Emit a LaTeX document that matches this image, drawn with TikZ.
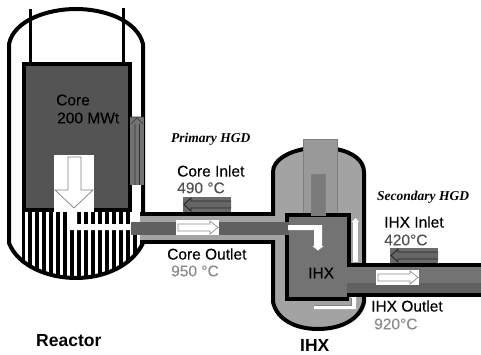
\documentclass[tikz,border=0pt]{standalone}
\usepackage{fontspec}
\setmainfont{Liberation Sans}
\newfontfamily\hgdfont{Liberation Serif}
\newfontfamily\plantfont[FakeBold=0.25]{Liberation Sans}
\usepackage{tikz}
\usetikzlibrary{positioning}
\newcommand{\definitions}{%
  % grey levels of the plant
  \colorlet{colCore}{black!67}
  \colorlet{colVessel}{black!36}
  \colorlet{colStack}{black!40}
  \colorlet{colBox}{black!55}
  \colorlet{colDuct}{black!62}
  \colorlet{colTempDark}{black!68}
  \colorlet{colTempLight}{black!45}

  % reactor vessel outline
  \def\pathReactor{(9,44) .. controls (14,20) and (48,9) .. (76,9) .. controls (104,9) and (137,20) .. (143,44)
    -- (143,243) .. controls (132,266) and (104,278) .. (76,278) .. controls (48,278) and (18,266) .. (9,243) -- cycle}
  % IHX vessel outline
  \def\pathIHX{(273,172) .. controls (273,160) and (288,152) .. (304,149) -- (336,149) .. controls (352,152) and (364,160) .. (364,172)
    -- (364,302) .. controls (360,320) and (340,329) .. (318,329) .. controls (296,329) and (277,320) .. (273,302) -- cycle}
}
% thick black walls, labels, and the flow arrows in their boxes
\tikzset{
  wall/.style={draw=black,line width=4pt},
  rod/.style={line width=3.5pt},
  label/.style={anchor=west,inner sep=0pt,font=\fontsize{15.5}{16}\selectfont\plantfont},
  bigLabel/.style={anchor=west,inner sep=0pt,font=\fontsize{17.5}{18}\selectfont\bfseries},
  hgdLabel/.style={anchor=west,inner sep=0pt,font=\fontsize{13.5}{14}\selectfont\hgdfont\bfseries\itshape},
  rightFlow/.style={fill=white,draw=black!45,line width=.7pt},
  leftFlow/.style={fill=black!60,draw=black!85,line width=.9pt}
}
% box with an arrow pointing right: x, y of the top left corner
\newcommand{\flowRight}[2]{%
  \fill[white] (#1,#2) rectangle ++(43,15);
  \draw[rightFlow] (#1+2,#2+4) -- ++(32,0) -- ++(0,-3) -- ++(8,6.5) -- ++(-8,6.5) -- ++(0,-3) -- ++(-32,0) -- cycle;
}
% box with an arrow pointing left: x, y of the top left corner
\newcommand{\flowLeft}[2]{%
  \fill[black!58] (#1,#2) rectangle ++(48,15);
  \draw[leftFlow] (#1+48,#2+4) -- ++(-40,0) -- ++(0,-3) -- ++(-7,6.5) -- ++(7,6.5) -- ++(0,-3) -- ++(40,0);
}

\begin{document}
\begin{tikzpicture}[x=1pt,y=-1pt]

  \useasboundingbox (0,0) rectangle (481,355);

  % define colors and outlines
  \definitions

  % reactor vessel with striped lower plenum
  \fill[white] \pathReactor;
  \begin{scope}
    \clip \pathReactor;
    \fill[black] (22,208) rectangle (143,280);
    \foreach \x in {25,32,...,137} {
      \fill[white] (\x,212) rectangle ++(3.4,70);
    }
    \fill[white] (132,210) rectangle (141,222);
  \end{scope}
  \draw[wall] \pathReactor;

  % control rods
  \draw[rod] (30.5,9) -- (30.5,64);
  \draw[rod,line width=3pt] (123,8) -- (123,64);

  % core block
  \filldraw[fill=colCore,draw=black,line width=4pt] (24,64) rectangle (130,210);

  % riser beside the core
  \fill[white] (132,185) rectangle (141,212);
  \fill[black!55] (130,117) rectangle (144,185);
  \draw[black!80,line width=.6pt] (130,117) -- (144,117) (131,124) -- (137,118) -- (143,124)
    (135,124) -- (135,185) (139.5,124) -- (139.5,185);

  % big arrow into the lower plenum
  \fill[white] (54,155) rectangle (94,212);
  \draw[black!50,line width=.7pt] (68,157) -- (68,190) -- (55,190) -- (74,208) -- (93,190) -- (81,190) -- (81,157) -- cycle;

  % way out of the lower plenum
  \fill[white] (70,211) rectangle (77,230) (70,224) rectangle (132,230);

  % primary duct
  \fill[colVessel] (140,216) rectangle (288,240);
  \fill[colDuct] (131,222) rectangle (288,235);
  \draw[wall] (140,214) -- (275,214) (140,241.5) -- (275,241.5);
  \flowLeft{183}{197}
  \flowRight{176}{220}

  % IHX vessel
  \fill[colVessel] \pathIHX;
  \draw[wall] \pathIHX;
  \fill[colVessel] (270.5,216) rectangle (288,239.5);
  \filldraw[fill=colStack,draw=black!50,line width=.6pt] (303,215) -- (303,139) -- (337,139) -- (337,215);

  % IHX box
  \fill[colBox] (287,215) rectangle (349,298);
  \draw[wall] (348.5,265) -- (348.5,215) -- (287,215) -- (287,298.5) -- (349,298.5);
  \fill[colDuct] (270.5,222) rectangle (289,235);
  \filldraw[fill=black!52,draw=black!50,line width=.4pt] (311,216) -- (311,174) -- (325,174) -- (325,216);

  % stream through the IHX box
  \fill[white] (288,225) rectangle (322,230) (314,225) rectangle (322,246);
  \fill[white] (312,246) -- (324,246) -- (318,251) -- cycle;
  \draw[black!50,line width=.4pt] (312,246) -- (318,251) -- (324,246);
  \fill[white] (353,222) rectangle (358,262);
  \fill[white] (352,222) -- (355.5,218) -- (359,222) -- cycle;
  \fill[white] (351,297) rectangle (356,309) (314,305) rectangle (356,309);
  \draw[black!50,line width=.5pt] (314,305) -- (351,305) -- (351,298);

  % secondary duct
  \fill[colDuct] (347,267) rectangle (481,293);
  \fill[colBox] (347,267) rectangle (481,283);
  \draw[wall] (347,265) -- (481,265) (347,295) -- (481,295);
  \flowLeft{390}{248}
  \flowRight{376}{270}

  % add labels for the reactor
  \node[label] (coreName) at (56,100) {Core};
  \node[label] (corePower) at (57,118) {200 MWt};
  \node[bigLabel] (reactorName) at (36,341) {Reactor};

  % add labels for the primary duct
  \node[hgdLabel] (primaryName) at (171,139) {Primary HGD};
  \node[label] (coreInlet) at (177,171) {Core Inlet};
  \node[label,text=colTempDark] (coreInletTemp) [below=11pt of coreInlet.south west,anchor=west] {490 °C};
  \node[label] (coreOutlet) at (167,254) {Core Outlet};
  \node[label,text=colTempLight] (coreOutletTemp) at (171,271) {950 °C};

  % add labels for the IHX and the secondary duct
  \node[label] (ihxBox) at (308,273) {IHX};
  \node[bigLabel] (ihxName) at (300,345.5) {IHX};
  \node[hgdLabel] (secondaryName) at (377,197) {Secondary HGD};
  \node[label] (ihxInlet) at (384,222) {IHX Inlet};
  \node[label,text=colTempDark] (ihxInletTemp) at (384,240) {420°C};
  \node[label] (ihxOutlet) at (371,306) {IHX Outlet};
  \node[label,text=colTempLight] (ihxOutletTemp) at (374,324) {920°C};

\end{tikzpicture}
\end{document}
